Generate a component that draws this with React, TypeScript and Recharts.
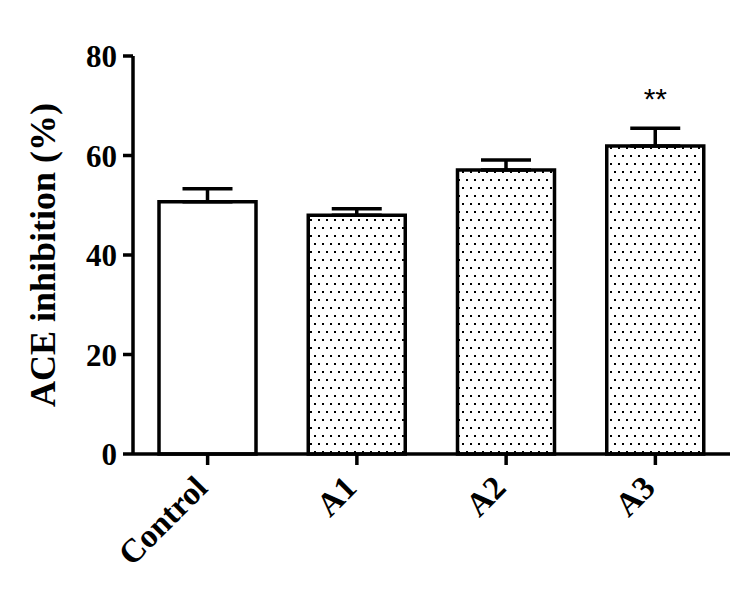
import React from "react";
import {
  Bar,
  BarChart,
  Cell,
  ErrorBar,
  ReferenceDot,
  XAxis,
  YAxis,
} from "recharts";

const groups = ["Control", "A1", "A2", "A3"];
const inhibition = [50.7, 48.0, 57.1, 61.9];
const upperError = [2.6, 1.3, 2.0, 3.6];
const significance = ["", "", "", "**"];
const yTicks = [0, 20, 40, 60, 80];

const data = groups.map((group, i) => ({
  group,
  value: inhibition[i],
  err: [0, upperError[i]],
}));

const serif = "'Liberation Serif', 'Times New Roman', serif";

function GroupTick({ x, y, payload }: any) {
  return (
    <g transform={`translate(${x - 10},${y})`}>
      <text
        x={0}
        y={0}
        dy="0.5em"
        textAnchor="end"
        transform="rotate(-45)"
        fontFamily={serif}
        fontWeight="bold"
        fontSize={33}
        fill="#000"
      >
        {payload.value}
      </text>
    </g>
  );
}

export default function App() {
  return (
    <div style={{ position: "absolute", left: 0, top: 0, background: "#fff" }}>
      <BarChart
        width={748}
        height={610}
        data={data}
        margin={{ top: 56, right: 18, bottom: 0, left: 0 }}
        barSize={97}
      >
        <defs>
          <pattern
            id="dots"
            patternUnits="userSpaceOnUse"
            width={8}
            height={16}
          >
            <rect width={8} height={16} fill="#fff" />
            <rect x={2} y={3} width={2} height={2} fill="#000" />
            <rect x={6} y={11} width={2} height={2} fill="#000" />
          </pattern>
        </defs>
        <XAxis
          dataKey="group"
          height={156}
          stroke="#000"
          strokeWidth={3.5}
          tickSize={11}
          tickMargin={13}
          tick={<GroupTick />}
          interval={0}
        />
        <YAxis
          width={133}
          domain={[0, 80]}
          ticks={yTicks}
          stroke="#000"
          strokeWidth={3.5}
          tickSize={10}
          tickMargin={6}
          tick={{
            fill: "#000",
            fontFamily: serif,
            fontWeight: "bold",
            fontSize: 31,
          }}
          label={{
            value: "ACE inhibition (%)",
            angle: -90,
            position: "insideLeft",
            offset: 48,
            dx: -6,
            style: {
              textAnchor: "middle",
              fontFamily: serif,
              fontWeight: "bold",
              fontSize: 36,
              fill: "#000",
            },
          }}
        />
        <Bar
          dataKey="value"
          stroke="#000"
          strokeWidth={3.5}
          isAnimationActive={false}
        >
          {data.map((d, i) => (
            <Cell key={d.group} fill={i === 0 ? "#fff" : "url(#dots)"} />
          ))}
          <ErrorBar
            dataKey="err"
            width={25}
            stroke="#000"
            strokeWidth={3.5}
            isAnimationActive={false}
          />
        </Bar>
        {significance.map((mark, i) =>
          mark ? (
            <ReferenceDot
              key={groups[i]}
              x={groups[i]}
              y={inhibition[i] + upperError[i] + 6.0}
              r={0}
              fill="none"
              stroke="none"
              label={{
                value: mark,
                position: "center",
                fontFamily: "'Liberation Sans', Arial, sans-serif",
                fontSize: 30,
                fill: "#000",
              }}
            />
          ) : null
        )}
      </BarChart>
    </div>
  );
}
